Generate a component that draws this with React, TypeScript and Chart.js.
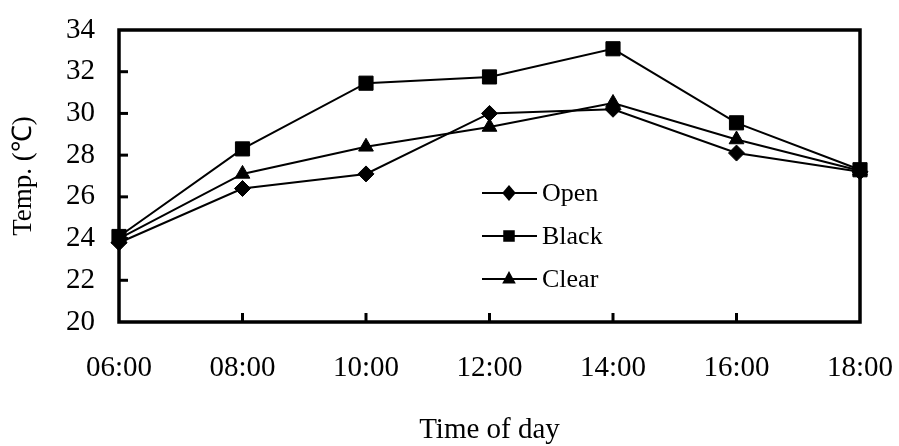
import React, { useEffect, useRef } from "react";
import { Chart, registerables } from "chart.js";

Chart.register(...registerables);

const timeLabels = ["06:00", "08:00", "10:00", "12:00", "14:00", "16:00", "18:00"];
const openTemps = [23.8, 26.4, 27.1, 30.0, 30.2, 28.1, 27.2];
const blackTemps = [24.1, 28.3, 31.45, 31.75, 33.1, 29.55, 27.3];
const clearTemps = [24.0, 27.1, 28.4, 29.35, 30.5, 28.75, 27.25];
const yMin = 20;
const yMax = 34;
const yStep = 2;
const seriesNames = ["Open", "Black", "Clear"];
const xTitle = "Time of day";
const yTitle = "Temp. (\u2103)";

const FONT = "'Liberation Serif', 'Times New Roman', serif";

function drawMarker(ctx: CanvasRenderingContext2D, style: string, x: number, y: number, r: number) {
  ctx.beginPath();
  if (style === "rectRot") {
    ctx.moveTo(x, y - r);
    ctx.lineTo(x + r * 0.85, y);
    ctx.lineTo(x, y + r);
    ctx.lineTo(x - r * 0.85, y);
  } else if (style === "rect") {
    const s = r * 0.72;
    ctx.rect(x - s, y - s, 2 * s, 2 * s);
  } else {
    ctx.moveTo(x, y - r);
    ctx.lineTo(x + r * 0.85, y + r * 0.55);
    ctx.lineTo(x - r * 0.85, y + r * 0.55);
  }
  ctx.closePath();
  ctx.fill();
}

const framePlugin = {
  id: "frame",
  beforeDatasetsDraw(chart: any) {
    const { ctx, chartArea } = chart;
    const xs = chart.scales.x;
    const ys = chart.scales.y;
    ctx.save();
    ctx.strokeStyle = "#000";
    ctx.lineWidth = 3.5;
    ctx.strokeRect(chartArea.left, chartArea.top, chartArea.right - chartArea.left, chartArea.bottom - chartArea.top);
    ctx.lineWidth = 3;
    for (let v = yMin + yStep; v < yMax; v += yStep) {
      const py = ys.getPixelForValue(v);
      ctx.beginPath();
      ctx.moveTo(chartArea.left, py);
      ctx.lineTo(chartArea.left + 9, py);
      ctx.stroke();
    }
    for (let i = 1; i < timeLabels.length - 1; i++) {
      const px = xs.getPixelForValue(i);
      ctx.beginPath();
      ctx.moveTo(px, chartArea.bottom);
      ctx.lineTo(px, chartArea.bottom - 9);
      ctx.stroke();
    }
    ctx.restore();
  },
  afterDraw(chart: any) {
    const { ctx, chartArea } = chart;
    const styles = ["rectRot", "rect", "triangle"];
    const x0 = chartArea.left + 363;
    const y0 = chartArea.top + 163;
    ctx.save();
    ctx.fillStyle = "#000";
    ctx.strokeStyle = "#000";
    ctx.lineWidth = 2;
    ctx.font = `26px ${FONT}`;
    ctx.textBaseline = "middle";
    ctx.textAlign = "left";
    for (let i = 0; i < 3; i++) {
      const y = y0 + i * 43;
      ctx.beginPath();
      ctx.moveTo(x0, y);
      ctx.lineTo(x0 + 55, y);
      ctx.stroke();
      drawMarker(ctx, styles[i], x0 + 27, y, 8);
      ctx.fillText(seriesNames[i], x0 + 60, y + 1);
    }
    ctx.restore();
  },
};

export default function App() {
  const ref = useRef<HTMLCanvasElement>(null);
  useEffect(() => {
    if (!ref.current) return;
    const common = {
      borderColor: "#000",
      backgroundColor: "#000",
      pointBorderColor: "#000",
      pointBackgroundColor: "#000",
      borderWidth: 2,
      pointBorderWidth: 1,
      tension: 0,
      clip: false as any,
    };
    const chart = new Chart(ref.current, {
      type: "line",
      data: {
        labels: timeLabels,
        datasets: [
          { ...common, label: seriesNames[0], data: openTemps, pointStyle: "rectRot", pointRadius: 8 },
          { ...common, label: seriesNames[1], data: blackTemps, pointStyle: "rect", pointRadius: 10 },
          { ...common, label: seriesNames[2], data: clearTemps, pointStyle: "triangle", pointRadius: 8.5 },
        ],
      },
      options: {
        responsive: false,
        animation: false,
        devicePixelRatio: 1,
        layout: { padding: { top: 30, right: 39, left: 0, bottom: 0 } },
        plugins: { legend: { display: false }, tooltip: { enabled: false } },
        scales: {
          x: {
            grid: { display: false, drawTicks: false },
            border: { display: false },
            ticks: { color: "#000", font: { family: FONT, size: 29 }, padding: 29, maxRotation: 0, autoSkip: false },
            title: { display: true, text: xTitle, color: "#000", font: { family: FONT, size: 29 }, padding: { top: 0, bottom: -2 } },
            afterFit(scale: any) {
              scale.height = 124;
              scale.paddingLeft = 0;
              scale.paddingRight = 0;
            },
          },
          y: {
            min: yMin,
            max: yMax,
            grid: { display: false, drawTicks: false },
            border: { display: false },
            ticks: { stepSize: yStep, color: "#000", font: { family: FONT, size: 29 }, padding: 24 },
            title: { display: true, text: yTitle, color: "#000", font: { family: FONT, size: 27 }, padding: { top: 8, bottom: 0 } },
            afterFit(scale: any) {
              scale.width = 119;
              scale.paddingTop = 0;
              scale.paddingBottom = 0;
            },
          },
        },
      },
      plugins: [framePlugin],
    });
    return () => chart.destroy();
  }, []);
  return (
    <div style={{ position: "absolute", left: 0, top: 0, width: 899, height: 446, background: "#fff" }}>
      <canvas ref={ref} width={899} height={446} style={{ display: "block" }} />
    </div>
  );
}
